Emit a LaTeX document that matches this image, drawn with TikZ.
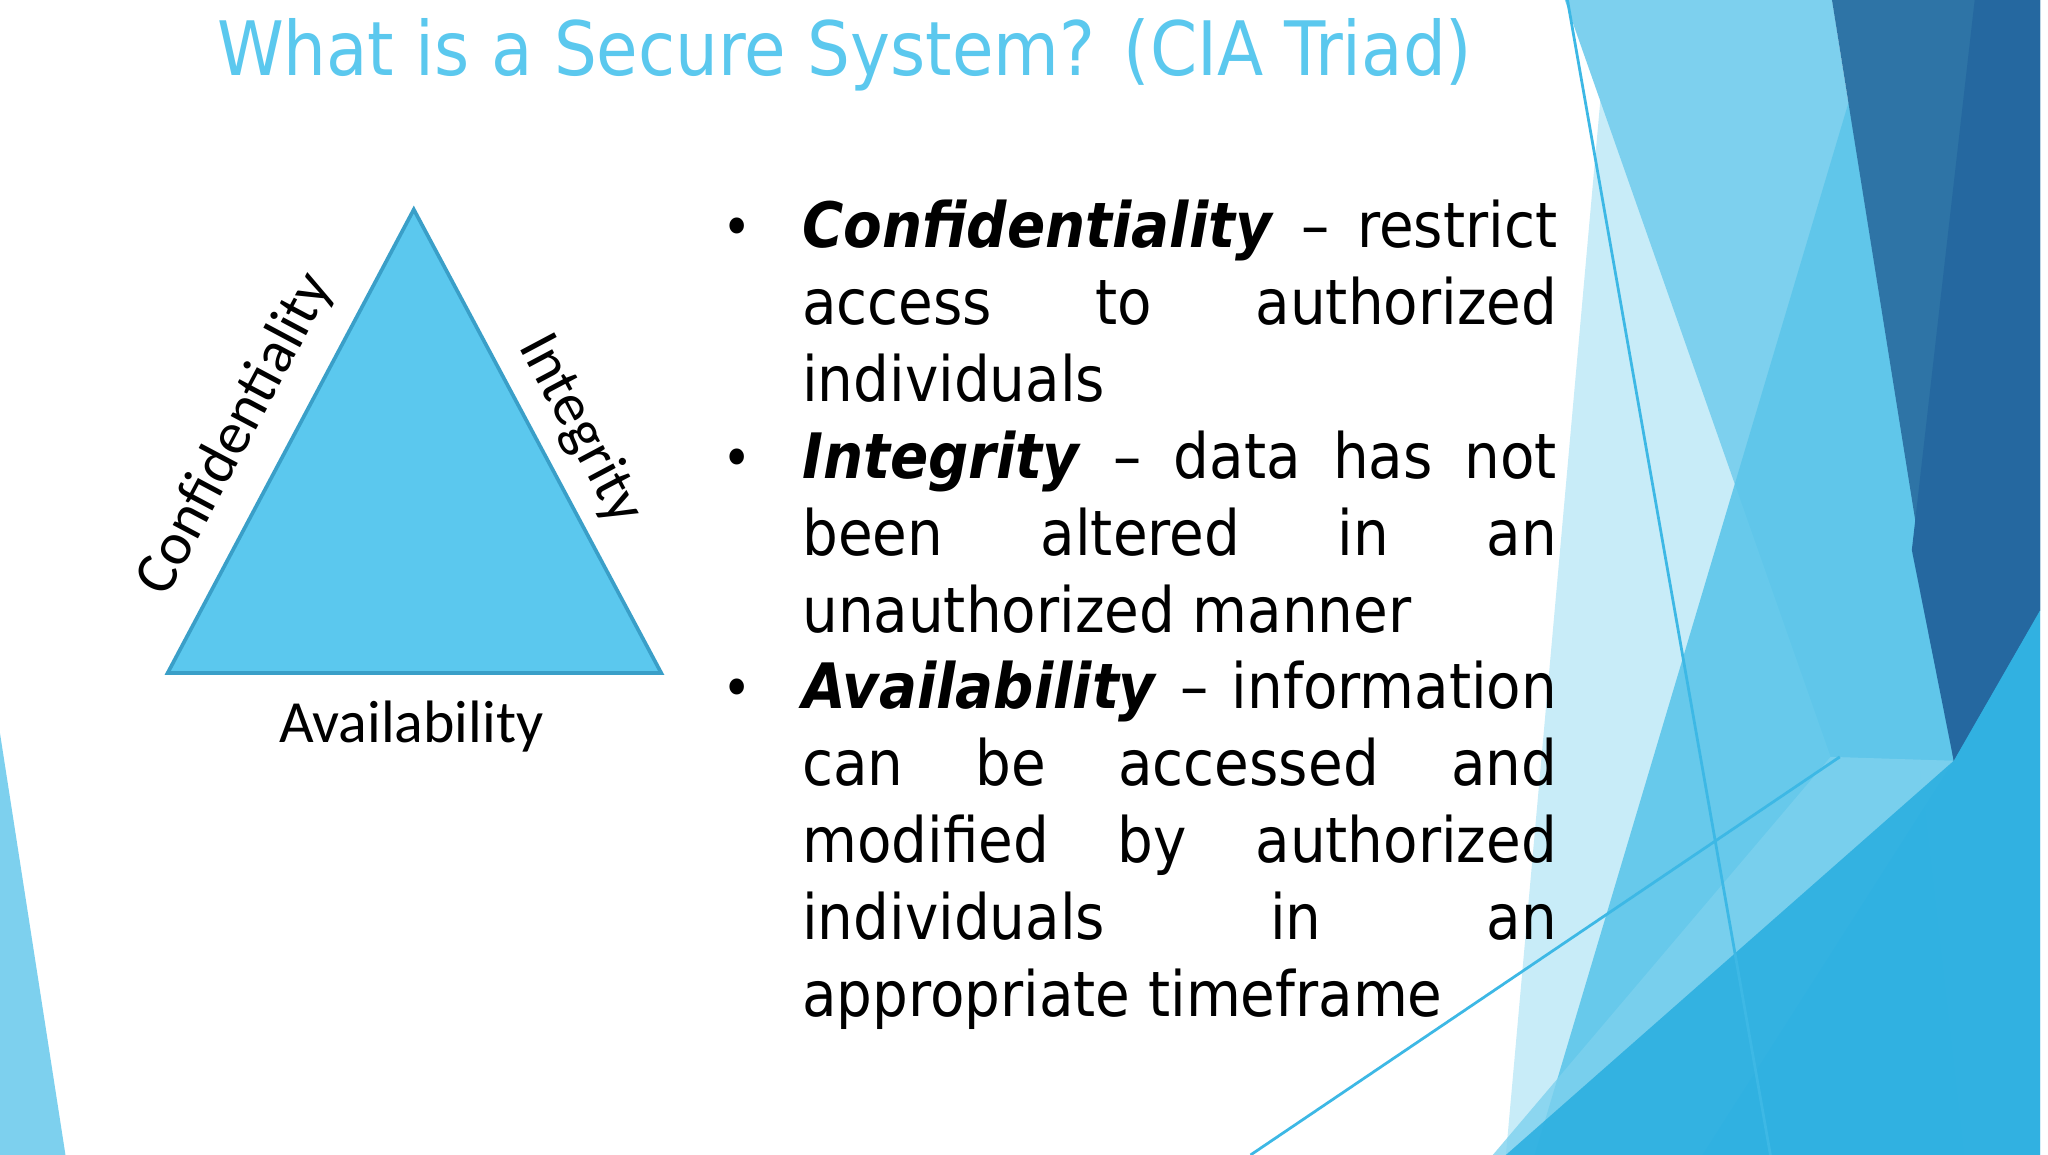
\documentclass[tikz,border=0pt]{standalone}
\usepackage{fontspec}
\setmainfont{DejaVu Sans Condensed}
\newfontfamily\calib{Carlito}
\definecolor{tblue}{HTML}{5BC8EE}
\definecolor{tedge}{HTML}{3A9FC8}
\definecolor{pale}{HTML}{C8ECF8}
\definecolor{lightb}{HTML}{7DD0EE}
\definecolor{midb}{HTML}{5DC6EA}
\definecolor{darkb}{HTML}{2E74A6}
\definecolor{deepb}{HTML}{2568A0}
\definecolor{botb}{HTML}{27ADE0}
\definecolor{linec}{HTML}{3DB8E5}
\tikzset{lab/.style={font=\calib\fontsize{13}{15}\selectfont, inner sep=0},
 body/.style={font=\fontsize{13.6}{16.7}\selectfont, inner sep=0, anchor=north west, text width=5.76cm, align=justify},
 bul/.style={font=\fontsize{12}{16.7}\selectfont, inner sep=0, anchor=north}}
\begin{document}
\begin{tikzpicture}[x=0.01cm,y=-0.01cm]
\useasboundingbox (0,0) rectangle (1564,882);
\fill[white] (0,0) rectangle (1564,882);
% background decoration
\fill[pale] (1229,0) -- (1400,0) -- (1500,882) -- (1150,882) -- cycle;
\fill[lightb] (1195,0) -- (1399,0) -- (1492,581) -- (1398,578) -- cycle;
\fill[midb,opacity=0.9] (1435,0) -- (1558,0) -- (1558,882) -- (1172,882) -- cycle;
\fill[darkb] (1399,0) -- (1558,0) -- (1558,466) -- (1492,581) -- cycle;
\fill[deepb] (1508,0) -- (1558,0) -- (1558,466) -- (1492,581) -- (1460,420) -- cycle;
\fill[midb!80!white,opacity=0.8] (1398,578) -- (1492,581) -- (1300,882) -- (1140,882) -- cycle;
\fill[botb,opacity=0.85] (1558,466) -- (1492,581) -- (1150,882) -- (1558,882) -- cycle;
\fill[lightb] (0,560) -- (50,882) -- (0,882) -- cycle;
\coordinate (l1a) at (1197,0); \coordinate (l1b) at (1352,882);
\coordinate (l2a) at (955,882); \coordinate (l2b) at (1405,578);
\draw[linec, line width=0.6pt] (l1a) -- (l1b);
\draw[linec, line width=0.6pt] (l2a) -- (l2b);
% title
\node[text=tblue, font=\fontsize{16.3}{20}\selectfont, inner sep=0] (title) at (645,42) {What is a Secure System? (CIA Triad)};
% triangle
\coordinate (apex) at (316,160);
\coordinate (bl) at (128,514);
\coordinate (br) at (505,514);
\draw[tedge, fill=tblue, line width=0.8pt] (apex) -- (br) -- (bl) -- cycle;
\node[lab] (av) at (314,555) {Availability};
\node[lab, rotate=62] (cf) at (180,332) {Confidentiality};
\node[lab, rotate=-62] (ig) at (443,328) {Integrity};
% bullets
\node[bul] (b1) at (563,166) {•};
\node[bul] (b2) at (563,342) {•};
\node[bul] (b3) at (563,518) {•};
\node[body] (txt) at (612,152) {\textbf{\textit{Confidentiality}} – restrict\linebreak access to authorized\linebreak individuals\par
\textbf{\textit{Integrity}} – data has not\linebreak been altered in an\linebreak unauthorized manner\par
\textbf{\textit{Availability}} – information\linebreak can be accessed and\linebreak modified by authorized\linebreak individuals in an\linebreak appropriate timeframe};
\end{tikzpicture}
\end{document}
